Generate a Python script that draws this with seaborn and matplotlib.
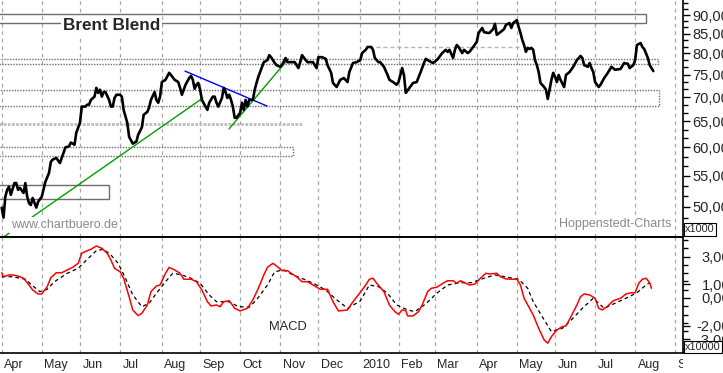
import numpy as np
import pandas as pd
import matplotlib
matplotlib.use("Agg")
import matplotlib.pyplot as plt
import seaborn as sns
from matplotlib.patches import Rectangle
from matplotlib.ticker import FixedLocator, NullFormatter
from matplotlib.transforms import ScaledTranslation, Bbox, TransformedBbox

# Brent closes, x = trading session counted from 1 Apr 2009
sessions = [0, 1, 2, 3, 4, 5, 7, 8, 9, 10,
            12, 13, 14, 15, 16, 17, 19, 20, 22, 24,
            26, 27, 28, 30, 32, 33, 35, 37, 38, 40,
            41, 43, 44, 46, 47, 48, 49, 51, 52, 53,
            54, 55, 56, 57, 59, 60, 61, 62, 63, 65,
            66, 67, 69, 70, 72, 74, 75, 77, 78, 80,
            81, 82, 84, 85, 86, 87, 88, 90, 92, 93,
            95, 97, 98, 99, 101, 103, 104, 105, 106, 107,
            108, 109, 110, 112, 113, 114, 116, 117, 118, 119,
            121, 122, 123, 124, 125, 126, 127, 128, 129, 131,
            132, 133, 134, 135, 136, 138, 139, 140, 141, 143,
            144, 146, 147, 148, 150, 151, 153, 154, 156, 157,
            158, 160, 161, 163, 164, 165, 167, 168, 169, 171,
            173, 174, 176, 178, 179, 181, 182, 184, 186, 188,
            190, 191, 193, 195, 197, 198, 200, 201, 203, 204,
            205, 207, 208, 210, 212, 213, 215, 217, 218, 220,
            221, 222, 224, 226, 228, 230, 232, 233, 234, 236,
            237, 239, 240, 242, 244, 245, 246, 248, 249, 250,
            251, 253, 254, 256, 257, 259, 261, 262, 264, 265,
            267, 268, 270, 271, 272, 274, 276, 277, 279, 280,
            281, 283, 284, 285, 286, 287, 288, 289, 290, 291,
            292, 293, 294, 295, 296, 298, 299, 300, 301, 302,
            303, 304, 305, 306, 307, 309, 310, 312, 314, 316,
            318, 319, 320, 322, 323, 324, 325, 326, 328, 329,
            331, 333, 335, 337, 340, 342, 344, 345, 347, 348,
            349, 351, 352, 353, 355, 356, 357, 358]
close = [49.9, 48.4, 51.6, 52.7, 53.2, 51.9, 53.8, 53.8, 52.7, 53.0,
         52.2, 53.8, 51.6, 50.6, 50.3, 51.4, 49.9, 50.8, 51.6, 54.0,
         55.5, 57.4, 57.8, 58.1, 57.2, 58.1, 60.0, 60.2, 60.9, 60.5,
         62.8, 64.7, 68.0, 68.0, 68.4, 68.4, 69.4, 70.1, 72.0, 70.9,
         71.6, 70.1, 71.1, 71.1, 69.4, 68.0, 68.0, 69.8, 70.5, 70.5,
         70.1, 67.3, 64.7, 62.0, 60.7, 61.1, 62.4, 63.8, 66.3, 66.9,
         67.8, 69.4, 71.1, 69.4, 68.8, 70.1, 73.3, 73.8, 75.4, 74.9,
         73.8, 73.3, 72.0, 70.5, 72.7, 74.2, 74.7, 73.8, 71.8, 72.7,
         73.1, 71.6, 69.4, 68.0, 67.3, 68.8, 70.1, 70.1, 68.8, 68.0,
         69.8, 72.0, 71.1, 69.8, 70.5, 69.4, 68.0, 65.7, 65.7, 66.7,
         68.8, 67.3, 69.4, 68.0, 69.4, 69.4, 71.6, 73.1, 74.5, 76.8,
         77.9, 78.4, 79.6, 79.1, 77.7, 77.2, 76.8, 77.2, 78.9, 77.9,
         77.9, 77.9, 77.9, 76.5, 77.9, 79.6, 78.4, 77.9, 77.9, 77.9,
         76.5, 79.1, 79.1, 78.7, 77.2, 75.4, 73.1, 72.2, 73.8, 74.2,
         73.3, 75.6, 77.7, 77.9, 78.4, 80.1, 80.9, 81.6, 81.6, 80.9,
         78.9, 77.9, 77.9, 76.8, 74.9, 73.8, 73.3, 72.7, 73.3, 76.5,
         74.9, 70.9, 72.0, 73.1, 73.3, 75.4, 77.7, 78.7, 78.4, 77.9,
         77.7, 78.4, 78.9, 80.1, 80.9, 80.4, 80.9, 78.9, 80.9, 82.1,
         81.6, 80.1, 80.9, 80.1, 80.4, 81.6, 82.9, 85.2, 86.5, 85.4,
         85.2, 85.2, 86.2, 87.6, 84.7, 85.4, 86.2, 87.3, 87.8, 86.5,
         87.8, 88.6, 86.8, 85.2, 83.4, 82.1, 80.4, 81.4, 81.1, 81.4,
         80.9, 78.4, 77.2, 75.6, 73.1, 72.2, 71.6, 69.6, 71.6, 73.8,
         75.4, 74.5, 73.3, 74.9, 73.8, 72.2, 74.9, 75.6, 76.8, 78.4,
         79.4, 78.9, 77.2, 76.8, 77.7, 76.5, 75.6, 73.3, 72.2, 72.7,
         74.2, 75.4, 76.8, 76.1, 76.3, 77.7, 77.5, 76.5, 77.2, 78.4,
         82.1, 82.6, 81.6, 81.1, 78.9, 77.2, 76.5, 75.8]

# MACD line (red) and signal line (dashed)
macd_s = [0, 1, 4, 6, 9, 12, 15, 17, 20, 22,
          25, 27, 30, 33, 36, 39, 42, 44, 47, 49,
          52, 55, 58, 60, 62, 65, 67, 70, 72, 75,
          77, 80, 82, 85, 87, 90, 92, 95, 98, 100,
          104, 107, 110, 113, 115, 118, 120, 122, 125, 128,
          131, 135, 138, 141, 144, 146, 149, 151, 154, 157,
          159, 162, 165, 168, 172, 175, 179, 182, 185, 190,
          193, 197, 200, 202, 204, 206, 210, 213, 216, 218,
          220, 222, 223, 226, 229, 231, 234, 236, 239, 243,
          245, 248, 250, 252, 255, 257, 260, 263, 266, 268,
          272, 274, 277, 280, 283, 285, 287, 289, 292, 295,
          298, 300, 302, 305, 308, 310, 312, 316, 318, 320,
          323, 326, 328, 330, 333, 336, 340, 343, 346, 348,
          350, 352, 354, 356, 357]
macd = [1.83, 1.54, 1.67, 1.67, 1.59, 1.43, 0.94, 0.58, 0.29, 0.29,
        0.82, 1.47, 1.83, 1.83, 2.03, 2.22, 2.51, 3.24, 3.43, 3.53,
        3.77, 3.60, 3.24, 2.75, 2.15, 1.91, 1.43, 0.09, -0.87, -1.28,
        -1.11, -0.51, 0.46, 0.87, 0.94, 1.79, 2.22, 2.03, 1.79, 1.36,
        1.36, 1.18, 0.58, -0.27, -0.58, -0.51, -0.63, -0.27, -0.20, -0.75,
        -0.94, -0.75, -0.14, 0.70, 1.67, 2.22, 2.51, 2.32, 1.98, 1.98,
        1.79, 1.54, 1.18, 1.18, 0.87, 0.63, 0.63, -0.27, -0.94, -0.87,
        -0.27, 0.40, 0.94, 1.36, 1.43, 1.07, 0.46, -0.51, -0.99, -1.18,
        -0.87, -0.92, -1.30, -1.30, -0.99, -0.51, 0.46, 0.70, 0.78, 1.11,
        1.25, 1.25, 1.07, 1.25, 1.07, 0.94, 1.01, 1.43, 1.79, 1.74,
        1.79, 1.54, 1.38, 1.36, 1.36, 0.94, -0.02, -0.51, -1.23, -2.20,
        -3.04, -3.28, -2.80, -2.32, -2.08, -2.03, -1.54, -0.51, 0.09, 0.29,
        0.22, -0.02, -0.75, -0.87, -0.58, -0.20, -0.02, 0.29, 0.38, 0.38,
        1.07, 1.36, 1.43, 1.11, 0.70]
signal_s = [0, 6, 13, 16, 21, 25, 29, 36, 42, 47,
            52, 56, 60, 64, 68, 72, 77, 81, 85, 90,
            94, 99, 104, 109, 114, 118, 125, 130, 136, 140,
            146, 150, 155, 160, 166, 172, 178, 183, 190, 197,
            202, 207, 212, 217, 223, 227, 233, 239, 245, 252,
            258, 265, 271, 278, 284, 289, 292, 297, 302, 308,
            313, 319, 325, 331, 337, 343, 349, 354, 356]
signal = [1.54, 1.54, 1.36, 0.99, 0.46, 0.63, 1.18, 1.79, 2.15, 2.80,
          3.43, 3.53, 3.12, 2.51, 1.43, 0.22, -0.63, -0.38, 0.34, 1.18,
          1.79, 1.67, 1.43, 1.07, 0.22, -0.27, -0.27, -0.63, -0.67, -0.14,
          0.94, 1.91, 2.03, 1.67, 1.36, 1.01, 0.58, -0.02, -0.75, -0.22,
          0.94, 0.82, 0.34, -0.51, -0.87, -0.99, -0.43, 0.34, 0.94, 1.11,
          1.11, 1.43, 1.67, 1.50, 1.36, 0.70, -0.27, -1.36, -2.44, -2.20,
          -1.59, -0.75, -0.02, -0.75, -0.38, -0.02, 0.38, 0.94, 1.11]

# support / resistance zones: last session, low, high
zone_end = [354, 360.6, 361.3, 160, 59]
zone_low = [87.8, 77.5, 68.1, 58.4, 51.2]
zone_high = [90.3, 78.7, 71.6, 60.0, 53.5]
zone_ls = ["-", (0, (1, 1)), (0, (1, 1)), (0, (1, 1)), "-"]

# trend lines (session, price)
trend_green = ([1, 110.5], [45.6, 69.8])
trend_blue = ([100.7, 145.8], [75.8, 68.1])
trend_green2 = ([124.9, 157.5], [63.5, 78.7])

price_ticks = [50, 55, 60, 65, 70, 75, 80, 85, 90]
macd_ticks = [3, 1, 0, -2, -3]

sns.set_style("white")
plt.rcParams["font.family"] = ["Liberation Sans", "DejaVu Sans"]

days = pd.bdate_range("2009-04-01", "2010-09-07")
month_pos = [i for i in range(len(days)) if i == 0 or days[i].month != days[i - 1].month]
month_lab = ["2010" if days[i].month == 1 else days[i].strftime("%b") for i in month_pos]
week_pos = [i for i in range(len(days)) if days[i].weekday() == 0 and i not in month_pos]
xlim = (-0.93, 374.3)
grid_kw = dict(color="#a8a8a8", linewidth=0.9, linestyle=(0, (3, 3)))

fig = plt.figure(figsize=(7.23, 3.73), dpi=100)
ax1 = fig.add_axes([0, 136 / 373, 683 / 723, 237 / 373])
ax2 = fig.add_axes([0, 20 / 373, 683 / 723, 116 / 373])
ax2.patch.set_visible(False)

# price panel
sns.lineplot(x=sessions, y=close, ax=ax1, color="black", linewidth=1.9, zorder=4)
ax1.set_yscale("log")

for end, lo, hi, ls in zip(zone_end, zone_low, zone_high, zone_ls):
    ax1.add_patch(Rectangle((-3, lo), end + 3, hi - lo, fill=False,
                            edgecolor="#6e6e6e", linewidth=1, linestyle=ls, zorder=2))
ax1.plot([-3, 165.6], [64.5, 64.5], color="#bdbdbd", linewidth=2, linestyle=(0, (1, 0.5)), zorder=2)
ax1.plot([202, 285], [81.6, 81.6], color="#b5b5b5", linewidth=1, linestyle=(0, (3, 2)), zorder=2)

ax1.plot(*trend_green, color="#00a000", linewidth=1, zorder=3)
ax1.plot(*trend_green2, color="#00a000", linewidth=1, zorder=3)
ax1.plot(*trend_blue, color="#0000ff", linewidth=1, zorder=3)

ax1.set_xticks(month_pos)
ax1.tick_params(axis="x", length=0, labelbottom=False)
ax1.grid(axis="x", **grid_kw)
ax1.yaxis.tick_right()
ax1.set_yticks(price_ticks, [f"{v},00" for v in price_ticks])
ax1.yaxis.set_minor_locator(FixedLocator(np.arange(45, 95, 5 / 3)))
ax1.yaxis.set_minor_formatter(NullFormatter())
ax1.tick_params(axis="y", which="major", length=5, width=1, pad=2, labelsize=10.5, color="black")
ax1.tick_params(axis="y", which="minor", length=3.5, width=1, color="black")
ax1.set_xlim(*xlim)
ax1.set_ylim(45.61, 94.23)
ax1.set_xlabel("")
ax1.set_ylabel("")
for side in ["left", "top"]:
    ax1.spines[side].set_visible(False)
for side in ["right", "bottom"]:
    ax1.spines[side].set_color("black")
    ax1.spines[side].set_linewidth(1.2)

ax1.text(63 / 683, 1 - 26 / 237, "Brent Blend", transform=ax1.transAxes, fontsize=12.3,
         fontweight="bold", va="center", ha="left", zorder=6,
         bbox=dict(facecolor="white", edgecolor="none", pad=1.5))
ax1.text(11 / 683, 1 - 225 / 237, "www.chartbuero.de", transform=ax1.transAxes, fontsize=9,
         color="#8a8a8a", va="center", ha="left", zorder=6,
         bbox=dict(facecolor="white", edgecolor="none", pad=1.5))
ax1.text(671 / 683, 1 - 224 / 237, "Hoppenstedt-Charts", transform=ax1.transAxes, fontsize=9,
         color="#8a8a8a", va="center", ha="right", zorder=6,
         bbox=dict(facecolor="white", edgecolor="none", pad=1.5))

# MACD panel
sns.lineplot(x=macd_s, y=macd, ax=ax2, color="#ff0000", linewidth=1.1, zorder=4)
sns.lineplot(x=signal_s, y=signal, ax=ax2, color="black", linewidth=0.9,
             linestyle=(0, (3, 2.5)), zorder=3)
ax2.grid(axis="x", **grid_kw)
ax2.set_xticks(month_pos, month_lab, ha="left")
ax2.set_xticks(week_pos, minor=True)
ax2.tick_params(axis="x", which="major", length=13, width=1, pad=-8.7, labelsize=9, color="black")
ax2.tick_params(axis="x", which="minor", length=4.3, width=1, color="black")
offset = ScaledTranslation(2.5 / 100, 0, fig.dpi_scale_trans)
clip = TransformedBbox(Bbox([[0, 0], [683 / 723, 1]]), fig.transFigure)
for lbl in ax2.get_xticklabels():
    lbl.set_transform(lbl.get_transform() + offset)
    lbl.set_clip_box(clip)
    lbl.set_clip_on(True)

ax2.yaxis.tick_right()
ax2.set_yticks(macd_ticks, [f"{v},00" for v in macd_ticks], ha="right")
ax2.yaxis.set_minor_locator(FixedLocator(np.arange(-3.6, 4.3, 0.6)))
ax2.yaxis.set_minor_formatter(NullFormatter())
ax2.tick_params(axis="y", which="major", length=5, width=1, pad=29, labelsize=10.5, color="black")
ax2.tick_params(axis="y", which="minor", length=3.5, width=1, color="black")
ax2.set_xlim(*xlim)
ax2.set_ylim(-3.99, 4.42)
ax2.set_xlabel("")
ax2.set_ylabel("")
ax2.spines["left"].set_visible(False)
for side in ["right", "bottom", "top"]:
    ax2.spines[side].set_color("black")
    ax2.spines[side].set_linewidth(1.2)
ax2.text(269 / 683, (353 - 327.5) / 116, "MACD", transform=ax2.transAxes, fontsize=9.3,
         va="center", ha="left")

box = dict(facecolor="white", edgecolor="black", linewidth=0.8, pad=0.8)
fig.text(685 / 723, 1 - 229.5 / 373, "x1000", fontsize=7.8, va="center", ha="left", bbox=box)
fig.text(685 / 723, 1 - 347 / 373, "x10000", fontsize=7.8, va="center", ha="left", bbox=box)

fig.savefig("out.png", dpi=100)
